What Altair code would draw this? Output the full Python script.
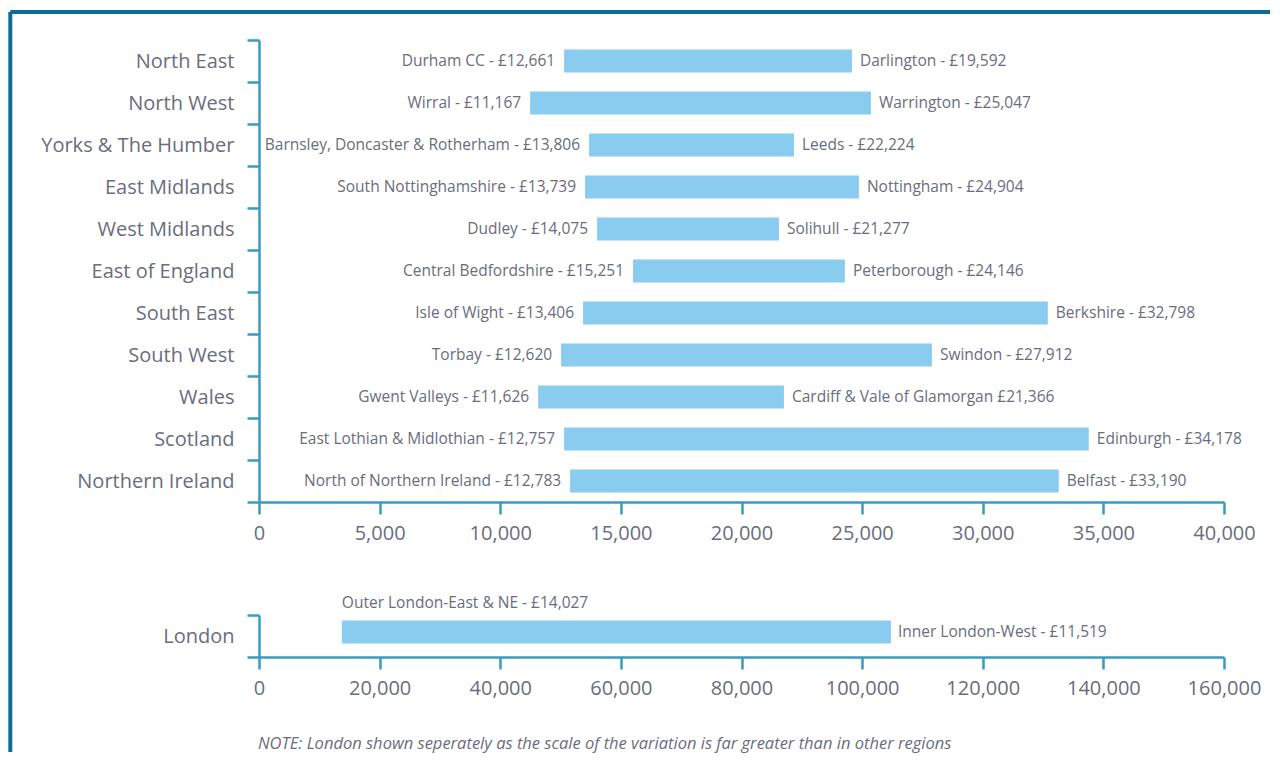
import altair as alt
import pandas as pd

# ---- data ----
regions = ["North East", "North West", "Yorks & The Humber", "East Midlands",
           "West Midlands", "East of England", "South East", "South West",
           "Wales", "Scotland", "Northern Ireland"]
low_labels = ["Durham CC - £12,661", "Wirral - £11,167",
              "Barnsley, Doncaster & Rotherham - £13,806",
              "South Nottinghamshire - £13,739", "Dudley - £14,075",
              "Central Bedfordshire - £15,251", "Isle of Wight - £13,406",
              "Torbay - £12,620", "Gwent Valleys - £11,626",
              "East Lothian & Midlothian - £12,757",
              "North of Northern Ireland - £12,783"]
high_labels = ["Darlington - £19,592", "Warrington - £25,047", "Leeds - £22,224",
               "Nottingham - £24,904", "Solihull - £21,277",
               "Peterborough - £24,146", "Berkshire - £32,798",
               "Swindon - £27,912", "Cardiff & Vale of Glamorgan £21,366",
               "Edinburgh - £34,178", "Belfast - £33,190"]
# bar extents as drawn in the picture
bar_low = [12647, 11239, 13683, 13517, 14014, 15505, 13434, 12523, 11570, 12647, 12896]
bar_high = [24577, 25364, 22175, 24867, 21553, 24287, 32697, 27892, 21760, 34395, 33152]

london_region = ["London"]
london_low_label = ["Outer London-East & NE - £14,027"]
london_high_label = ["Inner London-West - £11,519"]
london_low = [13740]
london_high = [104780]

x_ticks_regions = [0, 5000, 10000, 15000, 20000, 25000, 30000, 35000, 40000]
x_ticks_london = [0, 20000, 40000, 60000, 80000, 100000, 120000, 140000, 160000]

note = "NOTE: London shown seperately as the scale of the variation is far greater than in other regions"

# ---- styles ----
FONT = "Open Sans"
TXT = "#6a6d7d"
AX = "#3a9bc1"
FRAME = "#0d6b94"
BAR = "#8accef"

df1 = pd.DataFrame({"region": regions, "low": bar_low, "high": bar_high,
                    "low_label": low_labels, "high_label": high_labels})
df2 = pd.DataFrame({"region": london_region, "low": london_low, "high": london_high,
                    "low_label": london_low_label, "high_label": london_high_label})


def yaxis():
    return alt.Axis(title=None, tickBand="extent", tickSize=12, labelPadding=13,
                    labelFontSize=20, labelColor=TXT, labelFont=FONT,
                    domainColor=AX, tickColor=AX, domainWidth=2.5, tickWidth=2.5,
                    labelLimit=400)


def xaxis(values):
    return alt.Axis(title=None, values=values, format=",d", tickSize=12,
                    labelPadding=9, labelFontSize=20, labelColor=TXT,
                    labelFont=FONT, domainColor=AX, tickColor=AX,
                    domainWidth=2.5, tickWidth=2.5, grid=False,
                    labelFlush=False, labelOverlap=False)


W = 965

# ---- panel 1 ----
ysc1 = alt.Scale(domain=regions, paddingInner=0, paddingOuter=0)
base1 = alt.Chart(df1)
bars1 = base1.mark_bar(color=BAR, size=23).encode(
    x=alt.X("low:Q", scale=alt.Scale(domain=[0, 40000], nice=False),
            axis=xaxis(x_ticks_regions)),
    x2="high:Q",
    y=alt.Y("region:N", scale=ysc1, axis=yaxis()),
)
lt1 = base1.mark_text(align="right", baseline="middle", dx=-9, fontSize=15.5,
                      font=FONT, color=TXT).encode(
    x="low:Q", y="region:N", text="low_label:N")
rt1 = base1.mark_text(align="left", baseline="middle", dx=8, fontSize=15.5,
                      font=FONT, color=TXT).encode(
    x="high:Q", y="region:N", text="high_label:N")

fdf = pd.DataFrame({"a": [0]})
frame_top = alt.Chart(fdf).mark_rule(color=FRAME, strokeWidth=4).encode(
    x=alt.value(-248.7), x2=alt.value(1011), y=alt.value(-28))
frame_left = alt.Chart(fdf).mark_rule(color=FRAME, strokeWidth=4).encode(
    x=alt.value(-248.7), y=alt.value(-28), y2=alt.value(712))

p1 = alt.layer(bars1, lt1, rt1, frame_top, frame_left).properties(width=W, height=462)

# ---- panel 2 (London) ----
ysc2 = alt.Scale(domain=london_region, paddingInner=0, paddingOuter=0)
base2 = alt.Chart(df2)
bars2 = base2.mark_bar(color=BAR, size=23, yOffset=-4).encode(
    x=alt.X("low:Q", scale=alt.Scale(domain=[0, 160000], nice=False),
            axis=xaxis(x_ticks_london)),
    x2="high:Q",
    y=alt.Y("region:N", scale=ysc2, axis=yaxis()),
)
lt2 = base2.mark_text(align="left", baseline="middle", dy=-33, fontSize=15.5,
                      font=FONT, color=TXT).encode(
    x="low:Q", y="region:N", text="low_label:N")
rt2 = base2.mark_text(align="left", baseline="middle", dx=7, dy=-4, fontSize=15.5,
                      font=FONT, color=TXT).encode(
    x="high:Q", y="region:N", text="high_label:N")
note_t = alt.Chart(fdf).mark_text(align="left", baseline="middle", fontSize=16.5,
                                  font=FONT, fontStyle="italic", color=TXT,
                                  text=note).encode(
    x=alt.value(-1), y=alt.value(129))

p2 = alt.layer(bars2, lt2, rt2, note_t).properties(width=W, height=42)

chart = alt.vconcat(p1, p2, spacing=113, bounds="flush").properties(
    padding={"left": 0, "top": 2, "right": 0, "bottom": 0},
    background="white",
).configure_view(stroke=None)

chart.save("out.html", embed_options={"renderer": "svg", "actions": False})
